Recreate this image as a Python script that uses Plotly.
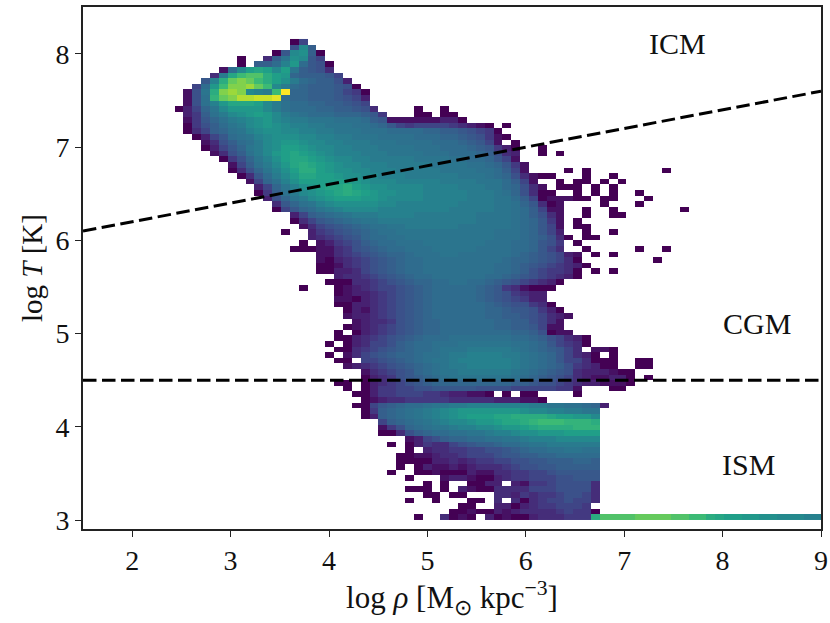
import plotly.graph_objects as go
from plotly.colors import sample_colorscale

_ = None
RHO_BIN = 0.09
T_BIN = 0.06
T_MIN = 3.0
N_RHO = 100

# first rho-bin of each temperature row (row 0 = lowest temperature)
ROW_STARTS = [57,58,59,60,55,53,55,57,54,52,52,52,53,53,53,50,50,50,48,48,47,48,47,48,48,48,48,46,45,44,45,44,45,45,46,47,46,46,45,45,45,45,44,45,43,43,43,43,40,43,42,42,41,40,40,38,38,37,36,36,35,34,33,33,32,31,30,30,29,28,28,28,28,27,28,28,28,29,30,31,32,36,37,38,40,40]

ROW_LEVELS = [
[3,0,1,0,_,2,0,1,0,0,2,3,3,3,4,4,4],
[0,0,1,0,0,2,1,2,3,3,3,3,4,5,4,4,0],
[0,0,_,_,2,2,0,2,3,4,4,5,5,5,4],
[0,0,_,3,_,3,0,3,4,5,5,6,5,5,3],
[0,0,_,0,0,_,_,_,3,3,2,4,3,4,4,5,6,6,5,3],
[0,0,0,_,0,_,2,1,0,0,3,3,3,3,5,5,5,6,6,6,6,3],
[0,_,0,_,_,0,0,2,2,_,2,1,4,4,5,6,6,6,6,3],
[1,2,2,1,0,0,2,3,4,4,5,5,5,6,6,7,7,7],
[0,0,1,0,0,0,2,1,1,3,3,4,4,5,5,6,7,7,7,7,7],
[0,_,0,2,1,1,2,1,2,3,3,3,4,5,6,6,7,7,8,8,8,8,8],
[0,0,0,0,2,2,3,2,3,4,4,5,5,6,6,7,7,8,8,8,9,9,8],
[0,0,1,1,2,3,3,4,5,5,5,6,7,7,8,8,9,9,10,10,10,10,10],
[0,_,2,3,3,4,4,5,5,6,6,7,8,9,10,10,11,11,12,12,11,11],
[0,2,4,3,3,5,6,7,8,8,9,10,10,11,12,12,13,13,13,13,13,13],
[1,2,5,6,8,9,9,10,10,11,11,12,12,13,14,14,14,15,15,15,15,15],
[0,0,3,6,8,9,10,10,11,11,12,12,13,14,14,15,16,16,17,17,17,18,18,18,18],
[1,4,6,9,10,11,12,12,13,14,14,15,15,16,17,17,18,19,20,20,20,20,21,21,21],
[5,8,9,10,11,12,13,14,15,15,16,17,17,18,19,19,20,21,22,22,22,21,21,21,20],
[0,2,8,9,10,11,12,13,14,15,16,17,18,18,18,19,19,20,20,20,20,19,18,18,17,17,15],
[0,4,8,9,10,11,12,13,14,15,16,17,17,17,17,17,17,17,16,15,15,14,14,13,13,12,12],
[0,0,5,7,8,9,10,10,11,12,12,13,13,14,14,14,14,14,14,14,13,13,12,12,11,11,10,9,2],
[0,1,2,3,3,4,4,4,4,4,3,3,3,3,3,2,2,2,1,1,0],
[0,0,2,4,4,5,5,5,4,4,3,2,2,1,1,0,_,0,_,0,0],
[0,2,4,4,5,5,6,6,7,7,7,7,7,6,6,6,6,5,5,5,5,5,4,4,1],
[0,2,3,4,5,6,7,8,9,9,9,9,9,9,9,9,9,8,8,7,6,6,5,4,3,2,2,1,1,1,0],
[0,2,3,4,6,7,8,9,10,11,12,12,12,12,12,12,12,11,10,9,8,7,6,5,3,2,1,1,2,2,0],
[1,3,4,5,6,7,9,10,11,12,12,13,13,13,13,13,13,12,11,10,9,8,7,6,3,2,2,2,1,0,0],
[1,2,3,4,5,6,7,8,9,10,11,12,13,13,14,14,14,14,14,13,12,11,10,9,8,6,4,3,2,0,0],
[0,0,_,5,5,6,7,8,9,10,11,12,12,13,14,14,14,14,14,14,13,12,11,10,9,7,5,5,3,0,0,0],
[0,_,1,3,5,6,7,8,9,9,10,11,11,12,13,13,14,14,14,14,13,13,12,11,10,9,7,5,3,2,0,_,0],
[0,0,3,4,5,6,7,8,9,10,10,11,12,12,12,13,13,13,13,13,12,11,10,9,8,7,5,3,_,1,1,0],
[0,_,0,2,3,5,5,6,8,9,10,10,11,11,11,12,12,12,12,12,12,11,11,10,9,7,5,4,3,0],
[0,0,2,3,4,5,6,7,8,9,10,10,10,11,11,11,11,11,11,11,10,10,9,8,6,5,3,2,0],
[0,_,0,2,3,4,5,6,7,8,9,9,10,10,10,10,10,10,10,10,9,9,8,6,0,1,1],
[0,1,2,3,4,5,6,7,8,9,9,10,10,10,10,10,10,9,9,8,8,7,5,1,1],
[1,2,3,3,4,6,7,8,9,9,10,10,10,10,10,10,9,9,8,8,6,5,3,1],
[1,2,2,3,4,5,6,7,8,9,10,10,10,10,10,10,9,9,8,8,7,6,5,3,2,1],
[0,2,1,3,4,5,6,7,8,9,10,10,10,10,10,10,9,9,8,7,7,6,4,2,0],
[0,0,2,2,3,4,5,6,7,8,9,10,10,10,10,10,10,9,8,7,6,6,4,3,0],
[1,1,0,2,3,4,5,6,7,8,9,10,10,10,10,10,9,8,7,6,5,4,2,2],
[0,1,2,2,3,4,5,6,7,8,9,10,10,10,10,10,9,8,7,6,4,3,2,2],
[0,1,2,3,4,5,5,6,7,8,9,10,10,10,10,10,9,8,7,4,3,1,0,0,0],
[0,0,0,3,3,4,5,6,7,8,9,9,10,10,11,11,10,10,9,8,7,6,5,4,3,2,0],
[2,3,3,4,5,6,7,8,9,10,10,11,11,11,11,11,11,10,10,9,8,7,6,5,4,3,2,0],
[0,0,2,2,3,5,6,7,8,9,10,10,11,11,11,11,11,11,11,11,10,10,9,8,6,5,4,4,3,0],
[0,0,1,3,4,5,6,7,8,9,10,10,11,11,11,11,11,11,11,11,10,10,9,8,7,6,5,4,3,2,0],
[1,0,2,3,4,5,6,7,8,9,10,10,11,11,11,11,11,11,11,11,11,10,9,9,8,7,6,5,3,0],
[1,1,3,4,5,6,7,8,9,9,10,11,11,11,12,12,11,11,11,11,11,11,10,9,8,7,6,5,2,1],
[0,0,0,1,1,3,4,6,7,8,9,10,10,11,11,11,12,12,12,12,12,11,11,11,11,10,10,9,7,5,3],
[1,2,4,5,6,8,9,10,10,11,11,11,12,12,12,12,12,12,12,11,11,11,10,10,9,7,6,4],
[2,3,4,5,6,7,9,10,10,11,11,12,12,12,12,12,12,12,12,12,12,11,11,11,10,9,8,6,3,0],
[2,4,5,6,7,8,9,10,11,11,12,12,12,12,12,12,12,12,12,12,12,11,11,11,10,9,7,5,2],
[1,3,5,6,7,8,9,10,11,11,12,12,13,13,13,13,13,13,12,12,12,12,12,12,11,10,9,7,5,1],
[0,3,5,7,8,9,10,11,12,12,13,13,13,13,13,13,13,13,13,13,13,12,12,12,12,11,10,9,7,4,1],
[2,5,8,9,10,11,12,13,13,13,14,14,14,14,13,13,13,13,13,13,13,12,12,12,12,11,10,8,6,3,1],
[0,5,7,9,10,12,13,14,15,15,15,15,14,14,14,14,14,14,14,14,13,13,13,13,13,12,12,11,10,8,5,1,1],
[3,7,9,11,12,14,15,16,16,16,16,16,15,15,14,14,14,14,14,14,14,13,13,13,13,12,12,11,9,7,3,0,1],
[2,6,9,12,13,15,16,17,18,18,18,17,17,16,15,15,15,15,14,14,14,14,14,13,13,13,12,12,10,8,5,0,1,1,1,0,0],
[0,4,8,11,13,15,16,17,18,19,20,19,18,17,16,16,15,15,15,14,14,14,14,14,13,13,13,12,11,9,6,3,0,0],
[2,5,9,12,14,16,17,18,19,19,20,18,17,16,16,15,15,15,15,14,14,14,14,13,13,13,12,12,10,9,6,3,1],
[1,5,9,11,14,16,18,18,18,18,18,18,17,16,15,15,15,14,14,14,14,14,13,13,13,13,12,12,12,10,8,5,1],
[0,3,7,10,13,15,17,19,19,18,18,17,16,16,15,15,14,14,14,13,13,13,13,13,13,12,12,12,11,10,9,6,3,1,0,0],
[0,3,6,9,12,14,16,18,20,20,18,17,16,16,15,15,14,14,14,13,13,13,13,13,12,12,12,12,11,11,10,8,5,1],
[1,5,8,11,13,15,17,19,20,19,18,17,16,15,15,14,14,14,13,13,13,13,13,12,12,12,12,11,11,10,9,7,4,1],
[0,4,6,9,12,14,16,18,19,19,18,17,16,15,15,14,14,13,13,13,13,13,12,12,12,12,11,11,10,10,9,7,5,1],
[1,3,6,8,11,13,15,17,18,19,18,17,16,15,14,14,14,13,13,13,12,12,12,12,11,11,11,10,10,10,9,8,6,3,2],
[0,2,5,7,9,12,13,15,16,18,18,17,16,15,15,14,14,13,13,13,12,12,12,12,11,11,11,10,10,10,9,8,7,4,2,0],
[1,3,6,8,10,11,13,15,16,17,17,16,15,15,14,14,13,13,13,12,12,12,11,11,11,11,10,10,10,9,8,7,5,1],
[0,2,5,7,10,11,12,14,15,16,16,16,15,15,14,14,13,13,12,12,12,11,11,11,11,10,10,10,9,9,8,7,6,4,1,0],
[0,3,5,8,9,11,12,14,15,16,16,15,15,14,14,13,13,12,12,12,11,11,11,10,10,10,10,9,9,8,8,7,6,5,4,0],
[0,4,6,8,10,12,13,15,16,17,16,15,14,14,13,13,12,12,12,11,11,10,9,7,5,4,5,5,5,5,4,3,2,1,0],
[1,4,7,9,11,13,14,15,16,17,15,14,13,13,12,12,12,11,11,11,10,8,7,1,1,1,1,1,1,2,2,0],
[2,4,8,11,13,15,16,17,18,17,15,13,12,11,10,10,10,9,9,9,8,7,4],
[0,2,5,9,12,15,17,17,17,17,15,13,11,10,10,10,9,9,8,8,7,6,3],
[1,6,11,14,17,19,19,19,18,15,13,11,10,10,9,9,8,8,7,6,5],
[1,6,11,21,24,25,27,27,28,28,29,10,9,9,8,8,8,7,6,5,2],
[1,6,12,20,25,26,25,15,14,13,22,30,9,9,8,8,8,7,5,4,0],
[5,10,17,22,25,25,26,24,22,15,13,10,9,8,8,8,7,6,0],
[7,14,20,24,25,24,22,20,18,16,13,10,9,8,8,6,2],
[3,13,19,22,23,23,20,18,17,9,8,8,8,7,5],
[1,10,15,18,19,18,15,18,12,8,7,6,3],
[8,8,10,14,17,10,7,6,0],
[3,8,12,16,15,7,5],
[0,7,15,16,8,0],
[6,15,8],
[0,5],
]

# the dense floor of the ISM: lowest temperature row, from rho-bin 74 to the edge
FLOOR_START = 74
FLOOR_LEVELS = [20,23,23,23,23,24,24,24,24,23,23,22,22,20,19,18,18,17,17,16,16,15,15,15,14,14]

# isolated single-count cells: row -> rho-bins
STRAY_CELLS = {
0:[54],3:[53,56],7:[53],8:[51],13:[51],22:[72],23:[46,76,77],24:[45,46],25:[80],
27:[79,80],28:[79,80],41:[41],44:[74,76],46:[81],47:[74,76],48:[73,79,82],49:[41,72],
50:[73,74],51:[39,73,76],52:[72,73],53:[72],54:[73,76,77],55:[73,76,84],56:[75,79],
57:[75,76,80],58:[72,74,76,79],59:[70,71,72,74,76],60:[70,72,73,75,77],61:[73,76],
62:[71,73,82],65:[68,70],66:[68],67:[65],70:[64],72:[54,55,57,58],73:[54,57],81:[34],82:[34],
}

DIVIDE_RHO = [1.5, 9.0]
ICM_CGM_T = [6.1, 7.6]
CGM_ISM_T = [4.5, 4.5]

REGION_NAMES = ["ICM", "CGM", "ISM"]
REGION_RHO = [7.54, 8.35, 8.26]
REGION_T = [8.11, 5.11, 3.6]

X_TICKS = [2, 3, 4, 5, 6, 7, 8, 9]
Y_TICKS = [3, 4, 5, 6, 7, 8]

# level -> position along viridis (the levels were read by eye from the picture)
LEVEL_STOPS = [0, 2, 4, 6, 8, 10, 12, 14, 16, 18, 20, 22, 24, 26, 28, 30]
VIRIDIS_POS = [0, .09, .17, .25, .30, .35, .39, .44, .50, .56, .62, .68, .76, .85, .92, 1]

n_rows = len(ROW_LEVELS)
grid = [[None] * N_RHO for _r in range(n_rows)]
for row, (start, levels) in enumerate(zip(ROW_STARTS, ROW_LEVELS)):
    for k, v in enumerate(levels):
        if v is not None:
            grid[row][start + k] = v
for k, v in enumerate(FLOOR_LEVELS):
    grid[0][FLOOR_START + k] = v
for row, cols in STRAY_CELLS.items():
    for c in cols:
        grid[row][c] = 0

scale = [[s / 30, c] for s, c in zip(LEVEL_STOPS, sample_colorscale("Viridis", VIRIDIS_POS))]

FONT = "Liberation Serif"
INK = "#111"
fig = go.Figure()
fig.add_trace(go.Heatmap(
    z=grid, x0=RHO_BIN / 2, dx=RHO_BIN, y0=T_MIN + T_BIN / 2, dy=T_BIN,
    colorscale=scale, zmin=0, zmax=30, showscale=False, hoverongaps=False,
))
for ys in (ICM_CGM_T, CGM_ISM_T):
    fig.add_trace(go.Scatter(
        x=DIVIDE_RHO, y=ys, mode="lines", showlegend=False,
        line=dict(color="black", width=3, dash="13.5px,5.5px"),
    ))
for name, rx, ry in zip(REGION_NAMES, REGION_RHO, REGION_T):
    fig.add_annotation(x=rx, y=ry, text=name, showarrow=False, xanchor="center", yanchor="middle",
                       font=dict(family=FONT, size=30, color=INK))
axis = dict(
    showgrid=False, zeroline=False, showline=True, mirror=True, linecolor="#222", linewidth=1.7,
    ticks="outside", ticklen=6, tickwidth=1.3, tickcolor="#222",
    tickfont=dict(family=FONT, size=28, color=INK),
)
fig.update_layout(
    width=846, height=623, autosize=False,
    margin=dict(l=83, r=25, t=5, b=94),
    plot_bgcolor="white", paper_bgcolor="white", showlegend=False,
    xaxis=dict(axis, range=[1.5, 9], tickvals=X_TICKS,
               title=dict(text="log <i>ρ</i> [M<sub>⊙</sub> kpc<sup>−3</sup>]", standoff=3,
                          font=dict(family=FONT, size=31, color=INK))),
    yaxis=dict(axis, range=[2.904, 8.503], tickvals=Y_TICKS,
               title=dict(text="log <i>T</i> [K]", standoff=4,
                          font=dict(family=FONT, size=29, color=INK))),
)
fig.write_html("out.html", config={"displayModeBar": False},
               post_script="document.body.style.margin='0';document.documentElement.style.overflow='hidden';document.body.style.overflow='hidden';")
